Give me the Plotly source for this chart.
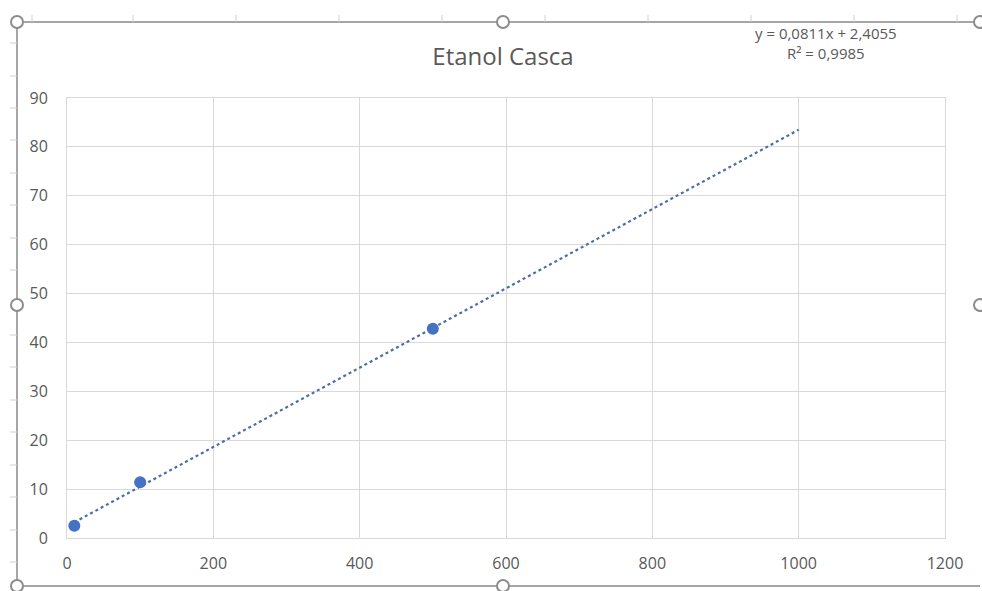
import numpy as np
import plotly.graph_objects as go

# Data
x_vals = [10, 100, 500]
y_vals = [2.49, 11.40, 42.79]
trend_end = 1000
title_text = "Etanol Casca"
eq_text = "y = 0,0811x + 2,4055"
r2_text = "R² = 0,9985"
x_ticks = [0, 200, 400, 600, 800, 1000, 1200]
y_ticks = [0, 10, 20, 30, 40, 50, 60, 70, 80, 90]

slope, intercept = np.polyfit(x_vals, y_vals, 1)
tx = [min(x_vals), trend_end]
ty = [slope * v + intercept for v in tx]

W, H = 982, 591
ML, MR, MT, MB = 67, 37, 98, 53
PW, PH = W - ML - MR, H - MT - MB
FONT = "Open Sans"
GRAY = "#595959"

fig = go.Figure()
fig.add_trace(go.Scatter(x=tx, y=ty, mode="lines",
                         line=dict(color="#4a6fa8", width=2.2, dash="dot"),
                         hoverinfo="skip", showlegend=False))
fig.add_trace(go.Scatter(x=x_vals, y=y_vals, mode="markers",
                         marker=dict(color="#4472C4", size=12),
                         showlegend=False))

def px(xp):
    return (xp - ML) / PW

def py(yp):
    return (H - MB - yp) / PH

shapes = []
frame_col = "#a6a6a6"
L, T, R, B = 17, 22, 980, 586
shapes.append(dict(type="line", xref="paper", yref="paper", x0=px(L), x1=px(R), y0=py(T), y1=py(T),
                   line=dict(color=frame_col, width=2)))
shapes.append(dict(type="line", xref="paper", yref="paper", x0=px(L), x1=px(R), y0=py(B), y1=py(B),
                   line=dict(color=frame_col, width=2)))
shapes.append(dict(type="line", xref="paper", yref="paper", x0=px(L), x1=px(L), y0=py(T), y1=py(B),
                   line=dict(color=frame_col, width=2)))
# faint ruler ticks
for xt in [32, 133, 236, 339, 442, 545, 648, 751, 854, 957]:
    shapes.append(dict(type="line", xref="paper", yref="paper", x0=px(xt), x1=px(xt), y0=py(15), y1=py(22),
                       line=dict(color="#d0d0d0", width=1)))
for yt in [43, 76, 108, 140, 173, 205, 238, 270, 335, 367, 400, 432, 465, 497, 530, 562]:
    shapes.append(dict(type="line", xref="paper", yref="paper", x0=px(10), x1=px(17), y0=py(yt), y1=py(yt),
                       line=dict(color="#d0d0d0", width=1)))
# handles
for hx, hy in [(L, T), (503, T), (R, T), (L, 305), (R, 305), (L, B), (503, B)]:
    shapes.append(dict(type="circle", xref="paper", yref="paper",
                       x0=px(hx - 6), x1=px(hx + 6), y0=py(hy - 6), y1=py(hy + 6),
                       line=dict(color="#8c8c8c", width=2), fillcolor="white"))

fig.update_layout(
    width=W, height=H,
    margin=dict(l=ML, r=MR, t=MT, b=MB),
    paper_bgcolor="white", plot_bgcolor="white",
    font=dict(family=FONT, color=GRAY, size=13),
    title=dict(text=title_text, x=503 / W, xanchor="center", y=1 - 57 / H, yanchor="middle",
               font=dict(family=FONT, size=24, color=GRAY)),
    shapes=shapes,
    annotations=[
        dict(text=eq_text, xref="paper", yref="paper", x=px(826), y=py(33), xanchor="center",
             yanchor="middle", showarrow=False, font=dict(family=FONT, size=15, color=GRAY)),
        dict(text=r2_text, xref="paper", yref="paper", x=px(826), y=py(53), xanchor="center",
             yanchor="middle", showarrow=False, font=dict(family=FONT, size=15, color=GRAY)),
    ],
    xaxis=dict(range=[0, 1200], tickvals=x_ticks, showgrid=True, gridcolor="#d9d9d9", gridwidth=1,
               zeroline=False, showline=True, linecolor="#d9d9d9", mirror=True, ticks="",
               ticklabelstandoff=11, tickfont=dict(size=16, color=GRAY)),
    yaxis=dict(range=[0, 90], tickvals=y_ticks, showgrid=True, gridcolor="#d9d9d9", gridwidth=1,
               zeroline=False, showline=True, linecolor="#d9d9d9", mirror=True, ticks="",
               ticklabelstandoff=15, tickfont=dict(size=16, color=GRAY)),
)

fig.write_html("out.html")
